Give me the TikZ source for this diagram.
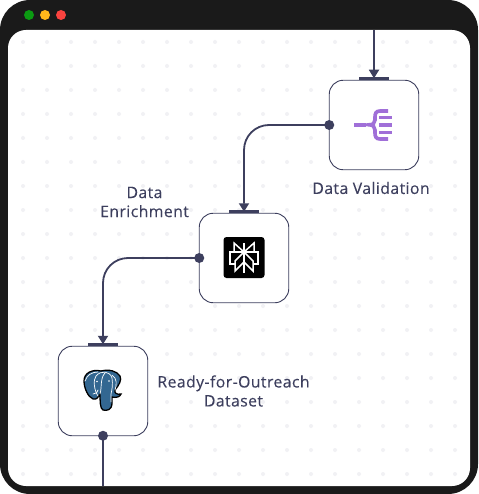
\documentclass[tikz,border=0pt]{standalone}
\usepackage{fontspec}
\setmainfont[LetterSpace=2.6,FakeBold=0.12]{Open Sans}
\usetikzlibrary{arrows.meta}
\definecolor{frame}{HTML}{1A1A1A}
\definecolor{ink}{HTML}{3D3F5E}
\definecolor{griddot}{HTML}{F1F1F4}
\definecolor{purp}{HTML}{A06FD8}
\definecolor{pgblue}{HTML}{336791}
\definecolor{lightgreen}{HTML}{0B9A12}
\definecolor{lightyellow}{HTML}{FFB71B}
\definecolor{lightred}{HTML}{F9433F}
\tikzset{
  card/.style={draw=ink,line width=0.9pt,fill=white,rounded corners=14pt,minimum width=89.5pt,minimum height=89.5pt,inner sep=0pt,outer sep=0pt},
  portbar/.style={fill=ink,minimum width=30pt,minimum height=3.5pt,inner sep=0pt,outer sep=0pt},
  port/.style={circle,fill=ink,minimum size=10pt,inner sep=0pt,outer sep=0pt},
  link/.style={draw=ink,line width=1.8pt},
  linka/.style={link,-{Triangle[length=8.5pt,width=10pt]},rounded corners=25pt},
  lab/.style={text=ink,font=\fontsize{15.8}{19}\selectfont,align=center,inner sep=0pt}
}
\begin{document}
\begin{tikzpicture}[x=1pt,y=-1pt]
\useasboundingbox (0,0) rectangle (478,494);
\fill[white] (0,0) rectangle (478,494);
\fill[frame,rounded corners=30pt] (0,0) rectangle (478,494);
\fill[white,rounded corners=18pt] (8,30) rectangle (470,486);
\foreach \i in {0,...,18} \foreach \j in {0,...,18}
  \fill[griddot] ({23+24*\i},{42+24*\j}) circle (2pt);
\fill[lightgreen] (29,15) circle (5pt);
\fill[lightyellow] (45,15) circle (5pt);
\fill[lightred] (61,15) circle (5pt);

\node[card] (n1) at (374,125) {};
\node[card] (n2) at (244,258) {};
\node[card] (n3) at (103,391) {};
\node[portbar] (b1) at (374,78.5) {};
\node[portbar] (b2) at (244,211.5) {};
\node[portbar] (b3) at (103,344.5) {};
\coordinate (topend) at (374,30);
\coordinate (botend) at (103,486);

\draw[link,-{Triangle[length=8.5pt,width=10pt]}] (topend) -- ([yshift=-1.5pt]b1.north);
\draw[linka] (n1.west) -| ([yshift=-2pt]b2.north);
\draw[linka] (n2.west) -| ([yshift=-1.5pt]b3.north);
\draw[link] (n3.south) -- (botend);
\node[port] (p1) at (n1.west) {};
\node[port] (p2) at (n2.west) {};
\node[port] (p3) at (n3.south) {};

\node[lab] (l1) at (371,188) {Data Validation};
\node[lab] (l2) at (144.5,202) {Data\\Enrichment};
\node[lab] (l3) at (233.5,391) {Ready-for-Outreach\\Dataset};

% validation icon
\begin{scope}[draw=purp,line width=3.5pt]
  \draw (354,125) -- (365.5,125);
  \draw[line width=3.6pt] (388,111) -- (380,111) .. controls (376,111) and (375,113.5) .. (375,117) -- (375,120) .. controls (375,123) and (373,124.8) .. (369,124.8) .. controls (373,124.8) and (375,127) .. (375,130) -- (375,133) .. controls (375,136.5) and (376,139) .. (380,139) -- (388,139);
  \draw (379,117.3) -- (391.5,117.3);
  \draw (379,124.8) -- (391.5,124.8);
  \draw (379,132.4) -- (391.5,132.4);
\end{scope}

% enrichment icon
\fill[black,rounded corners=3pt] (223.5,237) rectangle (264.5,278);
\begin{scope}[draw=white,line width=1.5pt,line join=miter]
  \draw (244,243) -- (244,273);
  \draw (234,252) -- (234,243) -- (244,252) -- (254,243) -- (254,252);
  \draw (230,252) -- (258,252);
  \draw (230,251.3) -- (230,264) -- (235,264);
  \draw (258,251.3) -- (258,264) -- (253,264);
  \draw (244,252) -- (235,261) -- (235,271) -- (244,262);
  \draw (244,252) -- (253,261) -- (253,271) -- (244,262);
\end{scope}

% elephant icon
\begin{scope}
  \path[fill=pgblue,draw=black,line width=1.3pt] (101,371)
    .. controls (92,369) and (84,373) .. (84,381)
    .. controls (84,388) and (88,397) .. (93,399)
    .. controls (97,400) and (98,397) .. (100,394)
    .. controls (100,400) and (100,409) .. (103,410)
    .. controls (107,411) and (112,410) .. (112,403)
    -- (112,397)
    .. controls (116,398) and (120,397) .. (121,394)
    .. controls (117,395) and (114,393) .. (115,390)
    .. controls (119,385) and (122,380) .. (120,376)
    .. controls (117,371) and (109,369) .. (101,371) -- cycle;
  \draw[white,line width=0.7pt,line cap=round] (98,396)
    .. controls (94,390) and (93,380) .. (96,376)
    .. controls (101,370) and (110,371) .. (112,378)
    .. controls (113,384) and (112,390) .. (111,394)
    -- (111,402);
  \draw[white,line width=0.7pt,line cap=round] (100,394)
    .. controls (102,388) and (100,378) .. (105,373);
  \draw[white,line width=0.7pt,line cap=round] (85,381) .. controls (87,375) and (92,372) .. (98,372);
  \draw[white,line width=0.7pt,line cap=round] (115,390) .. controls (117,385) and (117,378) .. (112,375);
  \draw[white,line width=0.7pt,line cap=round] (93,394) .. controls (96,394) and (98,392) .. (98,390);
  \fill[white] (97,381.5) circle (0.9pt) (109,381) circle (0.9pt);
\end{scope}
\end{tikzpicture}
\end{document}
